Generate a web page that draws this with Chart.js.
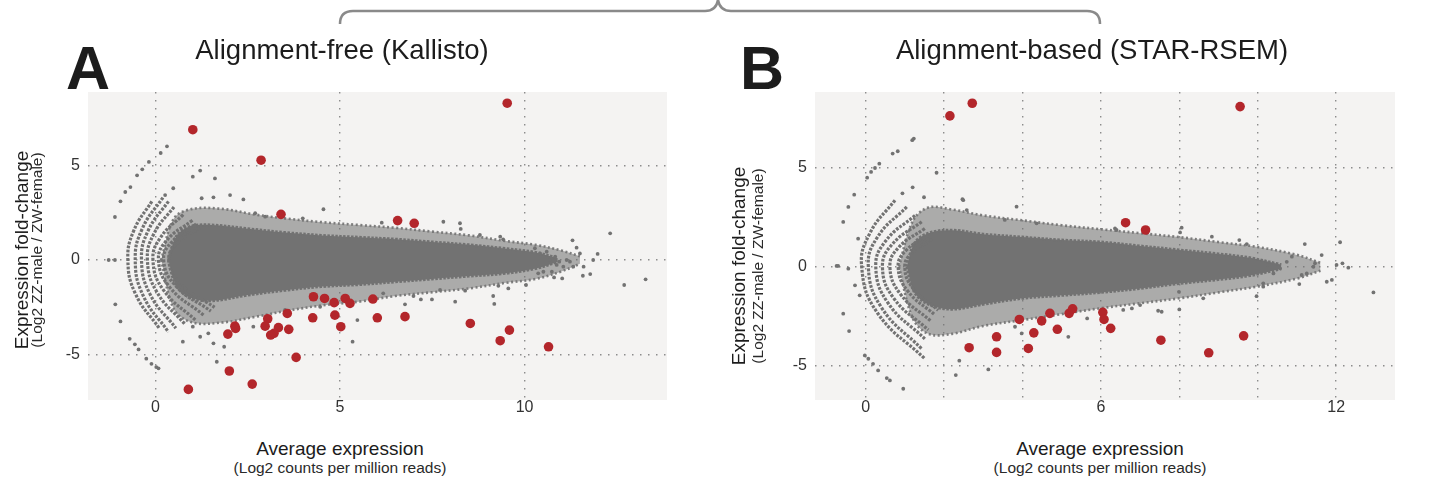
<!DOCTYPE html>
<html lang="en">
<head>
<meta charset="UTF-8" />
<title>Expression fold-change: Kallisto vs STAR-RSEM</title>
<script src="https://cdn.jsdelivr.net/npm/chart.js"></script>
<style>
  body { margin: 0; background: #fff; font-family: 'Liberation Sans', Arial, sans-serif; color: #1c1c1c; }
  .page { position: relative; width: 1452px; height: 484px; overflow: hidden; }
  .panel { position: absolute; top: 0; }
  .letter { position: absolute; font-weight: bold; font-size: 61px; line-height: 61px; }
  .title { position: absolute; width: 500px; text-align: center; font-size: 27.5px; line-height: 32px; white-space: nowrap; }
  .ytitle { position: absolute; width: 320px; text-align: center; transform: rotate(-90deg); white-space: nowrap; }
  .xtitle { position: absolute; width: 400px; text-align: center; white-space: nowrap; }
  .big { font-size: 19px; line-height: 22px; height: 22px; }
  .small { font-size: 15.5px; line-height: 18px; height: 18px; color: #2a2a2a; }
  svg { position: absolute; left: 0; top: 0; }
</style>
</head>
<body>
<div class="page">
  <svg width="1452" height="30">
    <path d="M 340 24 Q 340 11 353 11 L 705 11 Q 716 11 718 0" fill="none" stroke="#8a8a8a" stroke-width="2.5" />
    <path d="M 718 0 Q 720 11 731 11 L 1087 11 Q 1100 11 1100 24" fill="none" stroke="#8a8a8a" stroke-width="2.5" />
  </svg>

  <div class="panel" style="left:0; width:700px; height:430px;"><canvas id="chartA" width="700" height="430"></canvas></div>
  <div class="panel" style="left:726px; width:700px; height:430px;"><canvas id="chartB" width="700" height="430"></canvas></div>

  <div class="letter" style="left:66px; top:38px;">A</div>
  <div class="title" style="left:92px; top:34px;">Alignment-free (Kallisto)</div>
  <div class="ytitle big" style="left:-138px; top:239px;">Expression fold-change</div>
  <div class="ytitle small" style="left:-123px; top:241px;">(Log2 ZZ-male / ZW-female)</div>
  <div class="xtitle big" style="left:140px; top:438px;">Average expression</div>
  <div class="xtitle small" style="left:140px; top:459px;">(Log2 counts per million reads)</div>

  <div class="letter" style="left:740px; top:38px;">B</div>
  <div class="title" style="left:842px; top:34px;">Alignment-based (STAR-RSEM)</div>
  <div class="ytitle big" style="left:579px; top:255px;">Expression fold-change</div>
  <div class="ytitle small" style="left:598px; top:257px;">(Log2 ZZ-male / ZW-female)</div>
  <div class="xtitle big" style="left:900px; top:438px;">Average expression</div>
  <div class="xtitle small" style="left:900px; top:459px;">(Log2 counts per million reads)</div>
</div>

<script>
  // ticks / gridlines
  const yTicks = [-5, 0, 5];
  const xGridA = [0, 5, 10];
  const xLabelsA = [0, 5, 10];
  const xGridB = [0, 2, 4, 6, 8, 10, 12];
  const xLabelsB = [0, 6, 12];

  // Panel A: dense core and sparser halo of the gray cloud (edges)
  const coreAX  = [0.35, 0.55, 0.9, 1.5, 2.5, 3.5, 4.5, 5.5, 6.5, 7.5, 8.5, 9.5, 10.3, 10.9];
  const coreAUp = [0, 1.2, 1.75, 1.85, 1.65, 1.45, 1.3, 1.2, 1.1, 0.95, 0.8, 0.6, 0.4, 0.1];
  const coreALo = [0, -1.3, -1.95, -2.15, -1.85, -1.6, -1.4, -1.3, -1.15, -1.0, -0.85, -0.7, -0.45, -0.1];
  const haloAX  = [0.15, 0.5, 1.0, 1.8, 2.7, 3.5, 4.5, 5.5, 6.5, 7.5, 8.5, 9.5, 10.3, 11.0, 11.5];
  const haloAUp = [0, 2.2, 2.7, 2.7, 2.4, 2.2, 2.0, 1.85, 1.7, 1.5, 1.3, 1.0, 0.8, 0.5, 0.2];
  const haloALo = [0, -2.6, -3.3, -3.3, -3.0, -2.7, -2.4, -2.2, -1.9, -1.7, -1.5, -1.2, -1.0, -0.6, -0.2];

  // low-count arcs on the left (upper tip, upper mid, apex, lower mid, lower tip)
  const arcsA = [
    [[-0.1, 3.1], [-0.59, 1.55], [-0.75, 0], [-0.54, -1.8], [0.1, -3.6]],
    [[0.2, 3.3], [-0.36, 1.65], [-0.55, 0], [-0.33, -1.9], [0.35, -3.8]],
    [[0.35, 3.1], [-0.2, 1.55], [-0.38, 0], [-0.15, -1.8], [0.55, -3.6]],
    [[0.5, 2.8], [-0.04, 1.4], [-0.22, 0], [0.04, -1.7], [0.8, -3.4]],
    [[0.75, 2.4], [0.14, 1.2], [-0.07, 0], [0.22, -1.6], [1.1, -3.2]],
    [[1.0, 2.1], [0.31, 1.05], [0.08, 0], [0.39, -1.45], [1.3, -2.9]],
    [[1.1, 1.9], [0.44, 0.95], [0.22, 0], [0.54, -1.35], [1.5, -2.7]],
    [[1.2, 1.7], [0.57, 0.85], [0.36, 0], [0.67, -1.25], [1.6, -2.5]]
  ];

  const grayA = [
    [0.31, 6.0], [0.14, 5.65], [-0.18, 5.18], [-0.36, 4.79], [-0.5, 4.47], [-0.68, 3.85], [-0.82, 3.59], [-0.95, 3.1], [-1.1, 2.27],
    [-1.27, 0], [-1.1, 0], [-1.09, -2.34], [-0.95, -3.24], [-0.7, -4.16], [-0.56, -4.45], [-0.46, -4.72], [-0.25, -5.21],
    [-0.11, -5.48], [0.02, -5.65], [0.08, -5.72],
    [1.21, 4.72], [1.01, 4.4], [1.61, 4.31], [2.02, 3.43], [2.38, 3.2], [0.48, 3.79], [0.26, 3.43], [1.25, 3.26], [1.57, 3.31],
    [4.55, 2.68], [3.99, 2.2], [2.7, 2.47], [2.97, 2.29], [6.13, 1.97], [7.8, 2.02], [8.25, 1.94], [8.27, 1.64], [8.79, 1.32],
    [9.34, 1.23], [9.42, 1.09],
    [5.34, -4.31], [1.66, -5.37], [1.86, -4.58], [5.47, -3.17], [3.51, -2.64], [4.46, -2.47], [6.17, -1.76], [6.76, -2.34],
    [7.49, -2.08], [6.99, -1.9], [7.19, -2.08], [8.12, -2.2], [9.15, -1.9], [9.18, -2.32], [9.56, -1.5], [9.29, -1.36],
    [10.04, -1.32], [8.39, -1.62], [7.71, -1.58], [1.01, -3.52], [0.74, -4.31], [1.21, -4.05], [1.57, -4.4], [1.43, -3.87], [2.65, -3.52],
    [12.32, 1.41], [12.7, -1.32], [13.28, -1.02], [11.98, 0.32], [11.78, -0.74], [11.58, -0.83], [11.86, 0], [11.3, 1.04],
    [11.41, 0.65], [11.5, 0.35], [11.6, -0.35], [11.02, -0.97], [10.8, -0.92], [10.28, 0.62], [10.42, 0.35], [10.6, 0.44],
    [10.69, 0], [10.83, 0.18], [10.94, -0.09], [11.05, -0.35], [11.14, 0], [11.23, -0.09], [11.32, -0.35], [10.74, -0.62],
    [10.51, -0.62], [10.37, -0.7], [10.87, -0.26]
  ];

  const redA = [
    [1.01, 6.88], [2.86, 5.27], [3.40, 2.41], [6.56, 2.08], [7.01, 1.94], [9.53, 8.28],
    [4.28, -1.94], [4.58, -2.03], [4.84, -2.25], [5.14, -2.03], [5.27, -2.29], [5.89, -2.06],
    [4.26, -3.05], [4.86, -2.91], [5.02, -3.52], [6.01, -3.05], [6.76, -2.99], [3.57, -2.82],
    [3.04, -3.10], [2.97, -3.49], [3.61, -3.66], [3.33, -3.57], [3.21, -3.87], [3.12, -3.96],
    [2.15, -3.49], [2.17, -3.61], [1.96, -3.91], [3.81, -5.14], [2.00, -5.86], [2.62, -6.55],
    [0.89, -6.83], [8.53, -3.35], [9.59, -3.70], [9.34, -4.26], [10.65, -4.58]
  ];

  // Panel B
  const coreBX  = [1.05, 1.25, 1.6, 2.2, 3, 4, 5, 6, 7, 8, 9, 9.8, 10.6];
  const coreBUp = [0, 1.2, 1.7, 1.85, 1.65, 1.5, 1.35, 1.25, 1.05, 0.85, 0.65, 0.45, 0.1];
  const coreBLo = [0, -1.3, -1.9, -2.15, -1.9, -1.6, -1.45, -1.3, -1.1, -0.85, -0.65, -0.45, -0.1];
  const haloBX  = [0.85, 1.2, 1.6, 2.2, 3, 4, 5, 6, 7, 8, 9, 10, 11, 11.6];
  const haloBUp = [0, 2.3, 3.0, 2.9, 2.6, 2.35, 2.1, 1.9, 1.7, 1.5, 1.25, 1.0, 0.6, 0.2];
  const haloBLo = [0, -2.6, -3.4, -3.4, -3.0, -2.7, -2.4, -2.1, -1.85, -1.6, -1.3, -1.0, -0.6, -0.2];

  const arcsB = [
    [[0.75, 3.37], [0.11, 1.7], [-0.1, 0], [0.3, -2.33], [1.51, -4.66]],
    [[1.05, 3.03], [0.31, 1.52], [0.07, 0], [0.41, -2.08], [1.43, -4.16]],
    [[1.26, 2.6], [0.51, 1.3], [0.26, 0], [0.57, -1.83], [1.51, -3.65]],
    [[1.43, 2.28], [0.68, 1.14], [0.43, 0], [0.72, -1.6], [1.6, -3.2]],
    [[1.51, 1.94], [0.84, 0.97], [0.62, 0], [0.89, -1.39], [1.68, -2.78]],
    [[1.6, 1.6], [1.02, 0.8], [0.83, 0], [1.07, -1.22], [1.77, -2.44]],
    [[1.7, 1.4], [1.18, 0.7], [1.0, 0], [1.21, -1.1], [1.85, -2.2]]
  ];

  const grayB = [
    [1.23, 6.49], [1.19, 6.41], [0.82, 5.85], [0.69, 5.73], [0.35, 5.22], [0.24, 5.0], [0.14, 4.8], [0.04, 4.51],
    [-0.29, 3.65], [-0.44, 3.03], [-0.57, 2.27], [-0.74, 0.04], [-0.7, 0.04], [-0.44, -0.1],
    [-0.57, -2.38], [-0.42, -3.26], [-0.02, -4.49], [0.07, -4.66], [0.19, -4.92], [0.32, -5.25], [0.54, -5.64],
    [0.62, -5.76], [0.96, -6.18], [-0.19, 1.42], [-0.15, -1.45], [-0.27, -0.94],
    [1.81, 4.76], [3.85, 3.04], [2.47, 3.42], [2.58, 2.87], [2.49, 3.37], [0.94, 3.72], [1.2, 4.02], [1.49, 3.52],
    [2.3, -5.49], [3.13, -5.2], [2.39, -4.76],
    [3.55, 2.37], [4.36, 2.2], [6.36, 1.94], [6.4, 1.86], [8.06, 1.98], [8.02, 1.74], [8.83, 1.52], [9.53, 1.35], [9.72, 1.15],
    [6.57, -2.19], [6.79, -2.11], [7.0, -1.94], [7.46, -2.23], [7.55, -2.28], [8.0, -2.16], [7.99, -1.27],
    [9.97, -1.49], [10.14, -0.84], [5.17, -3.55], [5.65, -2.62], [3.98, -3.38], [3.81, -3.04], [10.14, -1.01], [8.61, -1.6],
    [11.2, 1.15], [12.1, 1.24], [12.95, -1.3], [12.31, -0.05], [12.01, 0.09], [12.16, 0.17], [11.89, -0.67], [11.76, -0.76],
    [11.63, 0.59], [11.42, 0], [11.46, 0.17], [11.25, -0.34], [11.12, -0.42], [11.06, -0.88], [10.87, 0.51], [10.74, 0.25],
    [10.57, -0.08], [10.4, -0.34], [10.23, 0.09]
  ];

  const redB = [
    [2.15, 7.64], [2.72, 8.28], [9.55, 8.11], [6.63, 2.23], [7.14, 1.86],
    [3.92, -2.67], [4.49, -2.74], [4.70, -2.36], [4.29, -3.35], [4.89, -3.17], [5.19, -2.36], [5.28, -2.13],
    [6.05, -2.31], [6.08, -2.67], [6.25, -3.12], [3.34, -3.55], [3.34, -4.34], [2.64, -4.10], [4.15, -4.14],
    [7.53, -3.72], [8.75, -4.36], [9.64, -3.50]
  ];

  const FONT = "'Liberation Sans', Arial, sans-serif";
  const GRAY = '#727272';
  const RED = '#b3262b';

  const pts = arr => arr.map(p => ({ x: p[0], y: p[1] }));
  const band = (xs, ys) => xs.map((x, i) => ({ x: x, y: ys[i] }));

  // light panel background behind the plotting area
  const plotBg = {
    id: 'plotBg',
    beforeDraw(chart) {
      const { ctx, chartArea: a } = chart;
      ctx.save();
      ctx.fillStyle = '#f4f3f2';
      ctx.fillRect(a.left, a.top, a.width, a.height);
      ctx.restore();
    }
  };

  function makePanel(id, p) {
    const lineBase = { pointRadius: 0, tension: 0.35, fill: false };
    const haloEdge = { borderColor: 'rgba(114,114,114,0.9)', borderWidth: 2.6, borderDash: [2, 2.5], order: 6 };
    const coreEdge = { borderColor: GRAY, borderWidth: 3, borderDash: [2.5, 1.5], order: 5 };
    const datasets = [
      Object.assign({}, lineBase, haloEdge, { data: band(p.haloX, p.haloUp), fill: '+1', backgroundColor: 'rgba(114,114,114,0.56)' }),
      Object.assign({}, lineBase, haloEdge, { data: band(p.haloX, p.haloLo) }),
      Object.assign({}, lineBase, coreEdge, { data: band(p.coreX, p.coreUp), fill: '+1', backgroundColor: GRAY }),
      Object.assign({}, lineBase, coreEdge, { data: band(p.coreX, p.coreLo) })
    ];
    p.arcs.forEach(arc => {
      datasets.push(Object.assign({}, lineBase, { data: pts(arc), borderColor: GRAY, borderWidth: 3.2,
        borderDash: [2.8, 1.4], tension: 0.45, order: 4 }));
    });
    datasets.push({ data: pts(p.gray), showLine: false, pointRadius: 1.9, backgroundColor: GRAY, borderWidth: 0, order: 3 });
    datasets.push({ data: pts(p.red), showLine: false, pointRadius: 4.8, backgroundColor: RED, borderWidth: 0, order: 1 });

    const tickFont = { family: FONT, size: 16 };

    new Chart(document.getElementById(id), {
      type: 'line',
      data: { datasets: datasets },
      plugins: [plotBg],
      options: {
        responsive: false,
        animation: false,
        events: [],
        layout: { padding: { left: p.padLeft, right: p.padRight, top: 92, bottom: 8 } },
        plugins: { legend: { display: false }, tooltip: { enabled: false } },
        scales: {
          x: {
            type: 'linear', min: p.xMin, max: p.xMax,
            afterBuildTicks: s => { s.ticks = p.xGrid.map(v => ({ value: v })); },
            afterFit: s => { s.height = 22; },
            grid: { color: '#8c8c8c', lineWidth: 1.4, drawTicks: false },
            border: { display: false, dash: [1.5, 6.5] },
            ticks: { padding: -2, color: '#333', font: tickFont,
              callback: v => p.xLabels.includes(v) ? String(v) : '' }
          },
          y: {
            type: 'linear', min: p.yMin, max: p.yMax,
            afterBuildTicks: s => { s.ticks = yTicks.map(v => ({ value: v })); },
            afterFit: s => { s.width = 40; },
            grid: { color: '#8c8c8c', lineWidth: 1.4, drawTicks: false },
            border: { display: false, dash: [1.5, 6.5] },
            ticks: { padding: 8, color: '#333', font: tickFont, callback: v => String(v) }
          }
        }
      }
    });
  }

  makePanel('chartA', {
    haloX: haloAX, haloUp: haloAUp, haloLo: haloALo,
    coreX: coreAX, coreUp: coreAUp, coreLo: coreALo,
    arcs: arcsA, gray: grayA, red: redA,
    xGrid: xGridA, xLabels: xLabelsA,
    xMin: -1.83, xMax: 13.86, yMin: -7.39, yMax: 8.87,
    padLeft: 48, padRight: 33
  });

  makePanel('chartB', {
    haloX: haloBX, haloUp: haloBUp, haloLo: haloBLo,
    coreX: coreBX, coreUp: coreBUp, coreLo: coreBLo,
    arcs: arcsB, gray: grayB, red: redB,
    xGrid: xGridB, xLabels: xLabelsB,
    xMin: -1.29, xMax: 13.5, yMin: -6.75, yMax: 8.85,
    padLeft: 49, padRight: 31
  });
</script>
</body>
</html>
